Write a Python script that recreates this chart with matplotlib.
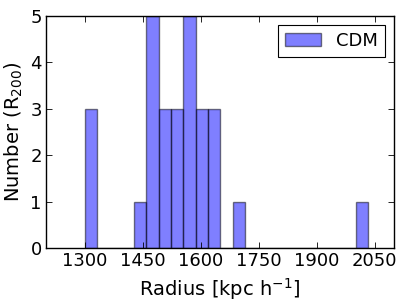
import matplotlib
matplotlib.use("Agg")
import matplotlib.pyplot as plt
import numpy as np

# Data
bin_start = 1300.0
bin_width = 31.87
counts = [3, 0, 0, 0, 1, 5, 3, 3, 5, 3, 3, 0, 1, 0, 0, 0, 0, 0, 0, 0, 0, 0, 1]
series_label = "CDM"
x_ticks = [1300, 1450, 1600, 1750, 1900, 2050]
y_ticks = [0, 1, 2, 3, 4, 5]

edges = bin_start + bin_width * np.arange(len(counts) + 1)
centers = 0.5 * (edges[:-1] + edges[1:])

fig = plt.figure(figsize=(4.07, 3.05), dpi=100)
ax = fig.add_axes([0.113, 0.186, 0.855, 0.763])
ax.hist(centers, bins=edges, weights=counts, color="blue", alpha=0.5,
        edgecolor="black", linewidth=1.0, label=series_label)

ax.set_xlim(1200, 2100)
ax.set_ylim(0, 5)
ax.set_xticks(x_ticks)
ax.set_yticks(y_ticks)
ax.tick_params(direction="in", top=True, right=True, length=4, width=0.6,
               labelsize=13, pad=3)
for s in ax.spines.values():
    s.set_linewidth(1.0)
ax.set_xlabel(r"Radius [kpc h$^{-1}$]", fontsize=14)
ax.set_ylabel(r"Number (R$_{200}$)", fontsize=14)
leg = ax.legend(loc="upper right", fontsize=13, fancybox=False, framealpha=1,
                edgecolor="black", handlelength=2.0)
leg.get_frame().set_linewidth(0.8)

fig.savefig("out.png", dpi=100)
